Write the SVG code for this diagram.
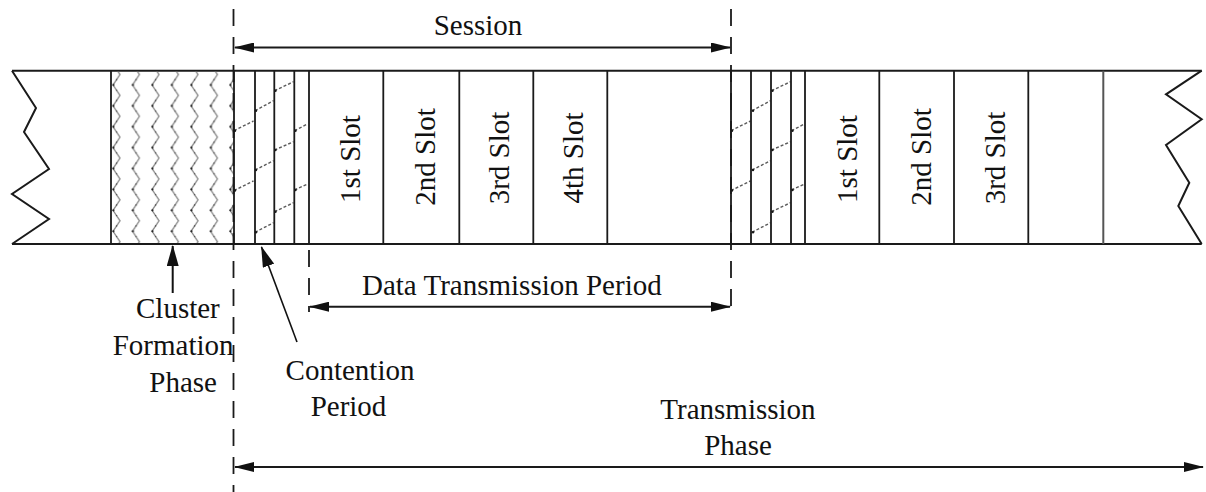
<svg xmlns="http://www.w3.org/2000/svg" width="1206" height="492" viewBox="0 0 1206 492">
  <style>
    .edge { stroke: #1a1a1a; stroke-width: 2; fill: none; }
    .div { stroke: #1a1a1a; stroke-width: 1.8; fill: none; }
    .dash { stroke: #1a1a1a; stroke-width: 1.8; stroke-dasharray: 17 11; fill: none; }
    .hatch { stroke: #5a5a5a; stroke-width: 1.4; stroke-dasharray: 3 2; fill: none; }
    .arrow { stroke: #1a1a1a; stroke-width: 2; fill: none; }
    .lbl { font-family: "Liberation Serif", "Times New Roman", serif; font-size: 29px; fill: #111; }
  </style>
  <defs>
    <marker id="head" viewBox="0 0 20 10" markerUnits="userSpaceOnUse" markerWidth="20" markerHeight="10" refX="19" refY="5" orient="auto-start-reverse">
      <path d="M0,0 L20,5 L0,10 Z" fill="#111"/>
    </marker>
    <marker id="head-lg" viewBox="0 0 21 12" markerUnits="userSpaceOnUse" markerWidth="21" markerHeight="12" refX="20" refY="6" orient="auto">
      <path d="M0,0 L21,6 L0,12 Z" fill="#111"/>
    </marker>
    <!-- zigzag fill for the cluster formation block -->
    <pattern id="zigzag" patternUnits="userSpaceOnUse" x="111" y="70.7" width="19.5" height="20.9">
      <polyline points="2,-6.6 9,3.85 2,14.3 9,24.75" fill="none" stroke="#808080" stroke-width="1.2"/>
      <circle cx="2.4" cy="14.3" r="1.1" fill="#1a1a1a"/>
      <circle cx="5.5" cy="9" r="0.7" fill="#333"/>
      <circle cx="5.5" cy="19.5" r="0.7" fill="#333"/>
    </pattern>
    <!-- staggered dashed slants of a contention period -->
    <g id="slants">
      <path class="hatch" d="M234,130.7 L253.5,121 M234,190.5 L253.5,181
                             M255,110.7 L273.5,100.7 M255,170 L273.5,160.7 M255,232.3 L273.5,222.7
                             M274.5,90.7 L293.5,81.7 M274.5,150 L293.5,141.7 M274.5,211.7 L293.5,202.7
                             M294.5,130.7 L307.5,124 M294.5,190 L307.5,184"/>
      <g fill="#1a1a1a">
        <circle cx="235" cy="130.7" r="1.2"/><circle cx="235" cy="190.5" r="1.2"/>
        <circle cx="256" cy="110.7" r="1.2"/><circle cx="256" cy="170" r="1.2"/><circle cx="256" cy="232.3" r="1.2"/>
        <circle cx="275.5" cy="90.7" r="1.2"/><circle cx="275.5" cy="150" r="1.2"/><circle cx="275.5" cy="211.7" r="1.2"/>
        <circle cx="295.5" cy="130.7" r="1.2"/><circle cx="295.5" cy="190" r="1.2"/>
      </g>
    </g>
  </defs>

  <rect width="1206" height="492" fill="#fff"/>

  <!-- time band outline with torn ends -->
  <g id="band">
    <line class="edge" x1="12" y1="70.7" x2="1201.7" y2="70.7"/>
    <line class="edge" x1="12" y1="244" x2="1201.7" y2="244"/>
    <polyline class="edge" points="12,70.7 36,108 24,132 49,169 12,194 49,219 12,244"/>
    <polyline class="edge" points="1201.7,70.7 1166,94.3 1201.7,119.3 1166,145 1189.3,182.7 1178.3,206 1201.7,244"/>
  </g>

  <!-- cluster formation phase block -->
  <g id="cluster-formation">
    <rect x="111" y="71.7" width="122.5" height="171.3" fill="url(#zigzag)"/>
    <line class="div" x1="111" y1="70.7" x2="111" y2="244"/>
  </g>

  <!-- first session: contention period -->
  <g id="contention-1">
    <use href="#slants"/>
    <path class="div" d="M234,70.7 V244 M255,70.7 V244 M274.3,70.7 V244 M294.3,70.7 V244 M309,70.7 V244"/>
  </g>

  <!-- first session: data slots -->
  <g id="slots-1">
    <path class="div" d="M383.3,70.7 V244 M459.3,70.7 V244 M533.3,70.7 V244 M607.3,70.7 V244 M731,70.7 V244"/>
    <text class="lbl" text-anchor="middle" transform="translate(360,159) rotate(-90)">1st Slot</text>
    <text class="lbl" text-anchor="middle" transform="translate(435,157) rotate(-90)">2nd Slot</text>
    <text class="lbl" text-anchor="middle" transform="translate(509,158) rotate(-90)">3rd Slot</text>
    <text class="lbl" text-anchor="middle" transform="translate(583,158) rotate(-90)">4th Slot</text>
  </g>

  <!-- second session: contention period -->
  <g id="contention-2">
    <use href="#slants" transform="translate(497,0)"/>
    <path class="div" d="M751,70.7 V244 M771,70.7 V244 M791,70.7 V244 M805,70.7 V244"/>
  </g>

  <!-- second session: data slots -->
  <g id="slots-2">
    <path class="div" d="M879.3,70.7 V244 M954,70.7 V244 M1028.3,70.7 V244"/>
    <line x1="1103.3" y1="70.7" x2="1103.3" y2="244" stroke="#555" stroke-width="2"/>
    <text class="lbl" text-anchor="middle" transform="translate(857,159) rotate(-90)">1st Slot</text>
    <text class="lbl" text-anchor="middle" transform="translate(931,157) rotate(-90)">2nd Slot</text>
    <text class="lbl" text-anchor="middle" transform="translate(1005,158) rotate(-90)">3rd Slot</text>
  </g>

  <!-- period boundaries and span arrows -->
  <g id="connectors">
    <line class="dash" x1="233.5" y1="9" x2="233.5" y2="492"/>
    <line class="dash" x1="731" y1="9" x2="731" y2="312"/>
    <line class="dash" x1="309" y1="250" x2="309" y2="312"/>
    <line class="arrow" x1="235" y1="47.5" x2="730" y2="47.5" marker-start="url(#head)" marker-end="url(#head)"/>
    <line class="arrow" x1="310" y1="306.7" x2="730" y2="306.7" marker-start="url(#head)" marker-end="url(#head)"/>
    <line class="arrow" x1="235" y1="467" x2="1203" y2="467" marker-start="url(#head)" marker-end="url(#head)"/>
    <line x1="172.7" y1="293" x2="172.7" y2="246" stroke="#111" stroke-width="2" marker-end="url(#head-lg)"/>
    <line x1="297" y1="342" x2="261.5" y2="247" stroke="#111" stroke-width="1.6" marker-end="url(#head-lg)"/>
  </g>

  <!-- labels -->
  <g id="labels">
    <text class="lbl" x="478" y="35" text-anchor="middle">Session</text>
    <text class="lbl" x="362" y="295">Data Transmission Period</text>
    <text class="lbl" x="136" y="318">Cluster</text>
    <text class="lbl" x="112.7" y="355">Formation</text>
    <text class="lbl" x="149.3" y="392">Phase</text>
    <text class="lbl" x="350" y="380" text-anchor="middle">Contention</text>
    <text class="lbl" x="348.5" y="416" text-anchor="middle">Period</text>
    <text class="lbl" x="738" y="419" text-anchor="middle">Transmission</text>
    <text class="lbl" x="738" y="455" text-anchor="middle">Phase</text>
  </g>
</svg>
